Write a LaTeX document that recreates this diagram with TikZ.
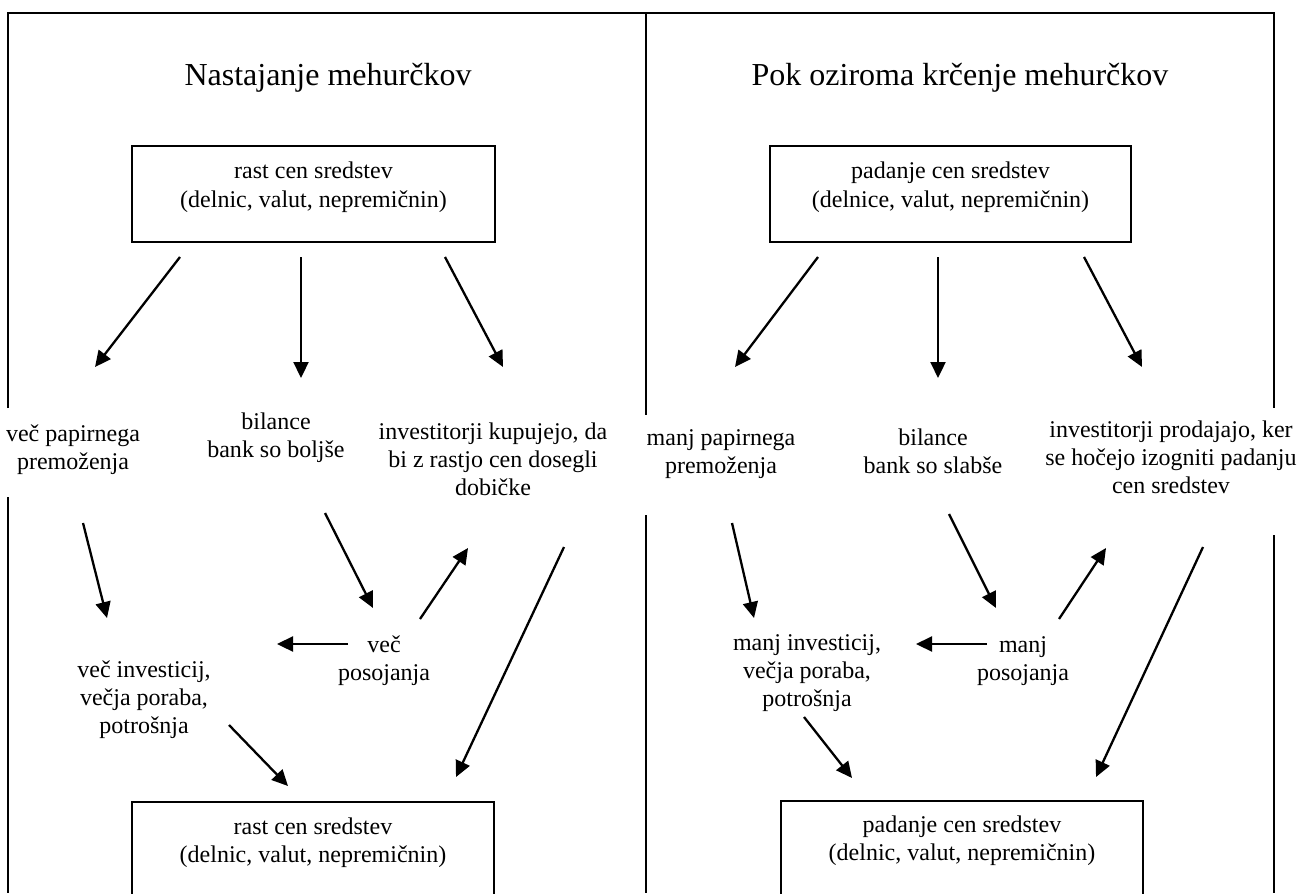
\documentclass[tikz,border=0pt]{standalone}
\usepackage{fontspec}
\setmainfont{Liberation Serif}
\usetikzlibrary{positioning, arrows.meta}

\begin{document}
\begin{tikzpicture}[x=0.5pt, y=-0.5pt,
    frame/.style={line width=1.1pt},
    box/.style={draw, line width=0.9pt},
    txt/.style={align=center, inner sep=0pt, anchor=base, font=\fontsize{12}{14}\selectfont},
    title/.style={inner sep=0pt, anchor=base, font=\fontsize{16}{19}\selectfont},
    arr/.style={-{Triangle[length=8pt, width=7.5pt]}, line width=1.15pt}]
\useasboundingbox (0,0) rectangle (1299,893);
\clip (0,0) rectangle (1299,893);

% frame, broken where the side texts sit
\draw[frame] (8,408) -- (8,13) -- (1274,13) -- (1274,408);
\draw[frame] (8,497) -- (8,893);
\draw[frame] (646,13) -- (646,415);
\draw[frame] (646,515) -- (646,893);
\draw[frame] (1274,535) -- (1274,893);

% left panel (nodes sit on the baseline of their last line)
\node[title] (titleL) at (328,86) {Nastajanje mehurčkov};
\node[box, txt, minimum width=181.5pt, text height=30.5pt, text depth=17.5pt] (cenaL) at (313.5,207) {rast cen sredstev\\(delnic, valut, nepremičnin)};
\node[txt] (papirL) at (73,469) {več papirnega\\premoženja};
\node[txt] (bilancaL) at (276,457) {bilance\\bank so boljše};
\node[txt] (investL) at (493,495) {investitorji kupujejo, da\\bi z rastjo cen dosegli\\dobičke};
\node[txt] (posojL) at (384,680) {več\\posojanja};
\node[txt] (porabaL) at (144,733) {več investicij,\\večja poraba,\\potrošnja};
\node[box, txt, minimum width=181pt, text height=30pt, text depth=40pt] (konecL) at (313,862) {rast cen sredstev\\(delnic, valut, nepremičnin)};

% right panel
\node[title] (titleR) at (960,86) {Pok oziroma krčenje mehurčkov};
\node[box, txt, minimum width=180.5pt, text height=30.5pt, text depth=17.5pt] (cenaR) at (950.5,207) {padanje cen sredstev\\(delnice, valut, nepremičnin)};
\node[txt] (papirR) at (721,473) {manj papirnega\\premoženja};
\node[txt] (bilancaR) at (933,473) {bilance\\bank so slabše};
\node[txt] (investR) at (1171,493) {investitorji prodajajo, ker\\se hočejo izogniti padanju\\cen sredstev};
\node[txt] (posojR) at (1023,680) {manj\\posojanja};
\node[txt] (porabaR) at (807,706) {manj investicij,\\večja poraba,\\potrošnja};
\node[box, txt, minimum width=181pt, text height=29.5pt, text depth=40pt] (konecR) at (962,860) {padanje cen sredstev\\(delnic, valut, nepremičnin)};

% arrow ends
\coordinate (L1a) at (180,257);  \coordinate (L1b) at (95,367);
\coordinate (L2a) at (301,257);  \coordinate (L2b) at (301,378);
\coordinate (L3a) at (445,257);  \coordinate (L3b) at (503,367);
\coordinate (L4a) at (83,523);   \coordinate (L4b) at (107,618);
\coordinate (L5a) at (325,513);  \coordinate (L5b) at (373,608);
\coordinate (L6a) at (420,619);  \coordinate (L6b) at (468,548);
\coordinate (L7a) at (564,547);  \coordinate (L7b) at (456,777);
\coordinate (L8a) at (348,644);  \coordinate (L8b) at (277,644);
\coordinate (L9a) at (229,725);  \coordinate (L9b) at (288,786);

\coordinate (R1a) at (818,257);  \coordinate (R1b) at (735,367);
\coordinate (R2a) at (938,257);  \coordinate (R2b) at (938,378);
\coordinate (R3a) at (1084,257); \coordinate (R3b) at (1142,367);
\coordinate (R4a) at (732,523);  \coordinate (R4b) at (754,618);
\coordinate (R5a) at (949,514);  \coordinate (R5b) at (996,608);
\coordinate (R6a) at (1059,619); \coordinate (R6b) at (1106,548);
\coordinate (R7a) at (1203,547); \coordinate (R7b) at (1096,777);
\coordinate (R8a) at (987,644);  \coordinate (R8b) at (916,644);
\coordinate (R9a) at (804,717);  \coordinate (R9b) at (852,778);

\foreach \i in {1,...,9} {
    \draw[arr] (L\i a) -- (L\i b);
    \draw[arr] (R\i a) -- (R\i b);
}
\end{tikzpicture}
\end{document}
